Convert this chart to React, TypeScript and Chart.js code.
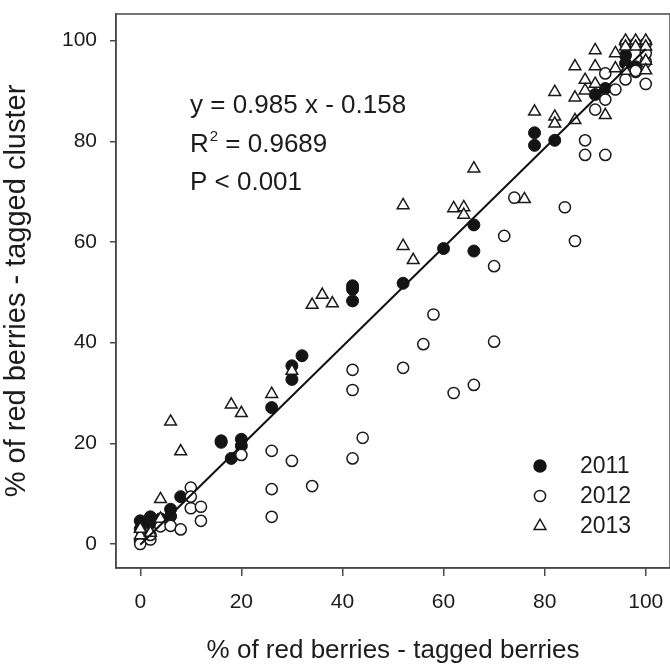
import React, { useEffect, useRef } from "react";
import { Chart, registerables } from "chart.js";

Chart.register(...registerables);

// ---- data ----
const X_2011 = [0, 0, 0, 2, 2, 4, 4, 6, 6, 8, 16, 16, 18, 20, 20, 26, 30, 30, 32, 42, 42, 42, 52, 60, 66, 66, 78, 78, 82, 90, 92, 96, 96, 98, 98];
const Y_2011 = [4.6, 3.0, 0.5, 5.4, 4.1, 4.1, 5.0, 6.9, 5.5, 9.4, 20.5, 20.2, 17.0, 20.8, 19.5, 27.1, 35.4, 32.7, 37.4, 51.3, 50.6, 48.3, 51.8, 58.7, 63.4, 58.2, 81.7, 79.2, 80.2, 89.3, 90.5, 97.1, 95.5, 94.8, 93.8];

const X_2012 = [0, 2, 2, 4, 6, 8, 10, 10, 10, 12, 12, 20, 26, 26, 26, 30, 34, 42, 42, 42, 44, 52, 56, 58, 62, 66, 70, 70, 72, 74, 84, 86, 88, 88, 90, 92, 92, 92, 94, 96, 98, 100, 100, 100, 100, 96, 98];
const Y_2012 = [0, 0.9, 1.8, 3.5, 3.6, 2.9, 11.2, 9.4, 7.1, 7.4, 4.6, 17.7, 18.5, 10.9, 5.4, 16.5, 11.5, 34.6, 30.6, 17.0, 21.1, 35.0, 39.7, 45.6, 30.0, 31.6, 40.2, 55.2, 61.2, 68.8, 66.9, 60.2, 80.2, 77.3, 86.3, 77.3, 88.3, 93.5, 90.3, 92.3, 94.0, 91.4, 95.8, 97.5, 99.4, 99.4, 99.4];

const X_2013 = [0, 0, 2, 4, 4, 6, 8, 18, 20, 26, 30, 34, 36, 38, 52, 52, 54, 62, 64, 64, 66, 76, 78, 82, 82, 82, 86, 86, 86, 88, 88, 90, 90, 90, 92, 94, 94, 96, 98, 100, 96, 98, 100, 100, 100, 96];
const Y_2013 = [1.7, 3.0, 2.2, 5.0, 8.9, 24.3, 18.4, 27.7, 26.0, 29.8, 34.4, 47.5, 49.5, 47.8, 67.3, 59.2, 56.4, 66.7, 66.9, 65.4, 74.6, 68.5, 85.9, 89.8, 84.9, 83.5, 84.2, 88.7, 94.9, 92.2, 90.1, 98.1, 94.9, 91.4, 85.2, 97.5, 94.5, 100, 100, 100, 98.8, 98.8, 98.8, 96.0, 94.1, 94.0];

const LINE_X = [0, 100];
const LINE_Y = [-0.158, 98.342];

const TICKS = [0, 20, 40, 60, 80, 100];
const SERIES_LABELS = ["2011", "2012", "2013"];
const ANNOT_EQ = "y = 0.985 x - 0.158";
const ANNOT_R2 = "0.9689";
const ANNOT_P = "P < 0.001";
const X_TITLE = "% of red berries - tagged berries";
const Y_TITLE = "% of red berries - tagged cluster";

const FONT = "'Liberation Sans', Arial, Helvetica, sans-serif";
const TEXT = "#1c1c1c";
const FRAME = "#4a4a4a";

const pts = (xs: number[], ys: number[]) => xs.map((x, i) => ({ x, y: ys[i] }));

const noPad = (s: any) => {
  s.paddingTop = 0;
  s.paddingBottom = 0;
  s.paddingLeft = 0;
  s.paddingRight = 0;
};

const decoPlugin = {
  id: "deco",
  afterDraw(chart: any) {
    const { ctx, chartArea } = chart;
    const { left, top, right, bottom } = chartArea;
    ctx.save();
    // frame
    ctx.strokeStyle = FRAME;
    ctx.lineWidth = 1.5;
    ctx.strokeRect(left, top, right - left, bottom - top);

    // annotation
    ctx.fillStyle = TEXT;
    ctx.textBaseline = "alphabetic";
    ctx.textAlign = "left";
    ctx.font = `26px ${FONT}`;
    const ax = 190;
    ctx.fillText(ANNOT_EQ, ax, 113);
    ctx.fillText("R", ax, 152);
    const rw = ctx.measureText("R").width;
    ctx.font = `15px ${FONT}`;
    ctx.fillText("2", ax + rw + 1, 141);
    const sw = ctx.measureText("2").width;
    ctx.font = `26px ${FONT}`;
    ctx.fillText(" = " + ANNOT_R2, ax + rw + 1 + sw, 152);
    ctx.fillText(ANNOT_P, ax, 190);

    // legend
    const rows = [466, 496, 526];
    const mx = 540;
    const tx = 580;
    chart.data.datasets.slice(1).forEach((ds: any, i: number) => {
      const y = rows[i];
      ctx.lineWidth = 1.5;
      ctx.strokeStyle = ds.borderColor;
      ctx.fillStyle = ds.backgroundColor;
      ctx.beginPath();
      if (ds.pointStyle === "triangle") {
        const r = 6.8;
        ctx.moveTo(mx, y - r);
        ctx.lineTo(mx + r * Math.sin(Math.PI * 2 / 3), y - r * Math.cos(Math.PI * 2 / 3));
        ctx.lineTo(mx - r * Math.sin(Math.PI * 2 / 3), y - r * Math.cos(Math.PI * 2 / 3));
        ctx.closePath();
      } else {
        ctx.arc(mx, y, ds.pointRadius, 0, Math.PI * 2);
      }
      ctx.fill();
      ctx.stroke();
      ctx.fillStyle = TEXT;
      ctx.font = `23px ${FONT}`;
      ctx.textBaseline = "middle";
      ctx.fillText(ds.label, tx, y + 1);
    });
    ctx.restore();
  },
};

export default function App() {
  const ref = useRef<HTMLCanvasElement>(null);
  useEffect(() => {
    if (!ref.current) return;
    const chart = new Chart(ref.current, {
      type: "scatter",
      data: {
        datasets: [
          {
            type: "line",
            label: "fit",
            data: pts(LINE_X, LINE_Y),
            borderColor: "#111",
            borderWidth: 2,
            pointRadius: 0,
            fill: false,
            order: 0,
          } as any,
          {
            label: SERIES_LABELS[0],
            data: pts(X_2011, Y_2011),
            pointStyle: "circle",
            pointRadius: 6,
            backgroundColor: "#141414",
            borderColor: "#141414",
            borderWidth: 1,
            order: 3,
          },
          {
            label: SERIES_LABELS[1],
            data: pts(X_2012, Y_2012),
            pointStyle: "circle",
            pointRadius: 5.6,
            backgroundColor: "#ffffff",
            borderColor: "#1a1a1a",
            borderWidth: 1.5,
            order: 2,
          },
          {
            label: SERIES_LABELS[2],
            data: pts(X_2013, Y_2013),
            pointStyle: "triangle",
            pointRadius: 6.8,
            backgroundColor: "#ffffff",
            borderColor: "#1a1a1a",
            borderWidth: 1.5,
            order: 1,
          },
        ],
      },
      options: {
        responsive: false,
        animation: false,
        events: [],
        layout: { autoPadding: false, padding: { top: 14, right: 0, left: 0, bottom: 0 } },
        plugins: { legend: { display: false }, tooltip: { enabled: false } },
        scales: {
          x: {
            type: "linear",
            min: -4.8,
            max: 104.8,
            afterBuildTicks: (s: any) => { s.ticks = TICKS.map((v) => ({ value: v })); },
            afterFit: (s: any) => { s.height = 98; noPad(s); },
            grid: { display: true, drawOnChartArea: false, drawTicks: true, tickLength: 8, color: FRAME, lineWidth: 1.5 },
            border: { display: true, color: FRAME, width: 1.5 },
            ticks: { color: TEXT, padding: 14, font: { family: FONT, size: 21 }, maxRotation: 0 },
            title: { display: true, text: X_TITLE, color: TEXT, font: { family: FONT, size: 26 }, padding: { top: 0, bottom: 0 } },
          },
          y: {
            type: "linear",
            min: -4.77,
            max: 105.3,
            afterBuildTicks: (s: any) => { s.ticks = TICKS.map((v) => ({ value: v })); },
            afterFit: (s: any) => { s.width = 116; noPad(s); },
            grid: { display: true, drawOnChartArea: false, drawTicks: true, tickLength: 6, color: FRAME, lineWidth: 1.5 },
            border: { display: true, color: FRAME, width: 1.5 },
            ticks: { color: TEXT, padding: 13, font: { family: FONT, size: 21 } },
            title: { display: true, text: Y_TITLE, color: TEXT, font: { family: FONT, size: 29 }, padding: { top: 0, bottom: 0 } },
          },
        },
      },
      plugins: [decoPlugin],
    } as any);
    return () => chart.destroy();
  }, []);
  return (
    <div style={{ position: "fixed", left: 0, top: 0, width: 670, height: 666, background: "#fff" }}>
      <canvas ref={ref} width={670} height={666} style={{ display: "block" }} />
    </div>
  );
}
